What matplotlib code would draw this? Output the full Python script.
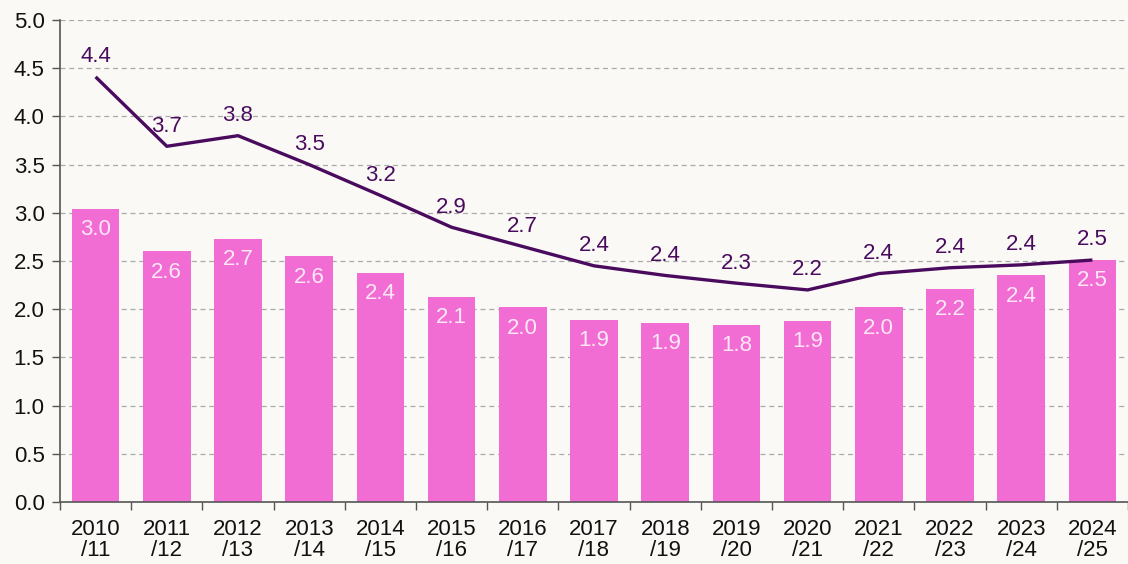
import matplotlib
matplotlib.use("Agg")
import matplotlib.pyplot as plt
import numpy as np

categories = ["2010\n/11", "2011\n/12", "2012\n/13", "2013\n/14", "2014\n/15", "2015\n/16",
              "2016\n/17", "2017\n/18", "2018\n/19", "2019\n/20", "2020\n/21", "2021\n/22",
              "2022\n/23", "2023\n/24", "2024\n/25"]
bar_values = [3.04, 2.60, 2.73, 2.55, 2.38, 2.13, 2.02, 1.89, 1.86, 1.84, 1.88, 2.02, 2.21, 2.35, 2.51]
line_values = [4.41, 3.69, 3.80, 3.50, 3.18, 2.85, 2.65, 2.45, 2.35, 2.27, 2.20, 2.37, 2.43, 2.46, 2.51]
bar_labels = ["3.0", "2.6", "2.7", "2.6", "2.4", "2.1", "2.0", "1.9", "1.9", "1.8", "1.9", "2.0", "2.2", "2.4", "2.5"]
line_labels = ["4.4", "3.7", "3.8", "3.5", "3.2", "2.9", "2.7", "2.4", "2.4", "2.3", "2.2", "2.4", "2.4", "2.4", "2.5"]
y_ticks = [0.0, 0.5, 1.0, 1.5, 2.0, 2.5, 3.0, 3.5, 4.0, 4.5, 5.0]

BG = "#faf9f5"
BAR = "#f26dd3"
LINE = "#4a0b5e"

plt.rcParams["font.family"] = ["Liberation Sans", "DejaVu Sans"]

fig = plt.figure(figsize=(11.28, 5.64), dpi=100, facecolor=BG)
ax = fig.add_axes([60/1128, 1 - 502/564, 1068/1128, 482/564])
ax.set_facecolor(BG)

x = np.arange(len(categories))
ax.bar(x, bar_values, width=0.67, color=BAR, zorder=2)
ax.plot(x, line_values, color=LINE, lw=2.4, zorder=3, solid_capstyle="butt")

for xi, v, lab in zip(x, bar_values, bar_labels):
    ax.annotate(lab, (xi, v), xytext=(0, -15), textcoords="offset points",
                ha="center", va="center", color="#fde8f7", fontsize=16, zorder=4)
for xi, v, lab in zip(x, line_values, line_labels):
    ax.annotate(lab, (xi, v), xytext=(0, 14.5), textcoords="offset points",
                ha="center", va="center", color=LINE, fontsize=16, zorder=4)

ax.set_xlim(-0.5, len(categories) - 0.5)
ax.set_ylim(0, 5.0)
ax.set_yticks(y_ticks)
ax.set_yticklabels([f"{t:.1f}" for t in y_ticks])
ax.set_xticks(x)
ax.set_xticklabels(categories, linespacing=1.05)
ax.set_xticks(np.arange(len(categories) + 1) - 0.5, minor=True)
ax.tick_params(axis="x", which="major", length=0, pad=12, labelsize=16, colors="#111111")
ax.tick_params(axis="x", which="minor", length=6, width=1, color="#555555", direction="out")
ax.tick_params(axis="y", length=6, width=1, color="#555555", labelsize=16, labelcolor="#111111", pad=5)

ax.grid(axis="y", linestyle=(0, (4, 3)), color="#aaaaaa", lw=0.9, zorder=0)
ax.set_axisbelow(True)
for s in ["top", "right"]:
    ax.spines[s].set_visible(False)
for s in ["left", "bottom"]:
    ax.spines[s].set_color("#555555")
    ax.spines[s].set_linewidth(1.2)

fig.savefig("out.png", dpi=100, facecolor=BG)
